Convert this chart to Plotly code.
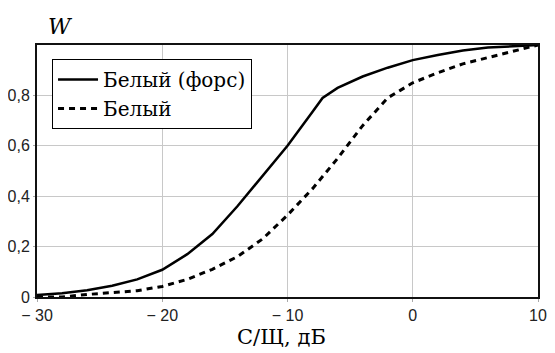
import plotly.graph_objects as go

x_forced = [-30, -28, -26, -24, -22, -20, -18, -16, -14, -12, -10, -8, -7.2, -6, -4, -2, 0, 2, 4, 6, 8, 10]
w_forced = [0.008, 0.015, 0.027, 0.045, 0.07, 0.108, 0.17, 0.25, 0.36, 0.48, 0.60, 0.735, 0.79, 0.83, 0.875, 0.91, 0.94, 0.96, 0.978, 0.99, 0.996, 1.0]

x_white = [-30, -28, -26, -24, -22, -20, -18, -16, -14, -12, -10, -8, -6, -4, -2, -1, 0, 2, 4, 6, 8, 10]
w_white = [0.0, 0.0, 0.01, 0.017, 0.025, 0.042, 0.07, 0.11, 0.16, 0.23, 0.325, 0.43, 0.55, 0.68, 0.79, 0.82, 0.85, 0.89, 0.925, 0.95, 0.975, 1.0]

x_tickvals = [-30, -20, -10, 0, 10]
x_ticktext = ["\u2212 30", "\u2212 20", "\u2212 10", "0", "10"]
y_tickvals = [0, 0.2, 0.4, 0.6, 0.8]
y_ticktext = ["0", "0,2", "0,4", "0,6", "0,8"]

names = ["Белый (форс)", "Белый"]
x_title = "С/Щ, дБ"
y_title = "<i>W</i>"

serif = "DejaVu Serif"

fig = go.Figure()
fig.add_trace(go.Scatter(x=x_forced, y=w_forced, mode="lines", name=names[0],
                         line=dict(color="black", width=2.5), legendgroup="a"))
fig.add_trace(go.Scatter(x=x_white, y=w_white, mode="lines", name=names[1],
                         line=dict(color="black", width=3, dash="6px,5px"), legendgroup="b"))

axis_font = dict(family="Liberation Sans", size=16, color="#222")
# page body has an 8px margin, so the figure is made 8px smaller on each side
fig.update_layout(
    width=547, height=345,
    margin=dict(l=29, r=17, t=37, b=56),
    paper_bgcolor="white", plot_bgcolor="white",
    font=dict(family=serif),
    showlegend=True,
    legend=dict(x=0.03, y=0.944, xanchor="left", yanchor="top",
                bgcolor="white", bordercolor="black", borderwidth=1,
                font=dict(family=serif, size=20, color="black"),
                tracegroupgap=0, itemwidth=40),
    xaxis=dict(range=[-30, 10], tickvals=x_tickvals, ticktext=x_ticktext,
               showgrid=True, gridcolor="#c8c8c8", gridwidth=1,
               showline=True, linecolor="#111", linewidth=2, mirror=True,
               ticks="outside", ticklen=3, tickcolor="#aaa",
               tickfont=axis_font, zeroline=False, automargin=False),
    yaxis=dict(range=[0, 1], tickvals=y_tickvals, ticktext=y_ticktext,
               showgrid=True, gridcolor="#c8c8c8", gridwidth=1,
               showline=True, linecolor="#111", linewidth=2, mirror=True,
               ticks="outside", ticklen=2, tickcolor="#aaa",
               tickfont=axis_font, zeroline=False, automargin=False),
    annotations=[
        dict(text=y_title, xref="paper", yref="paper", x=0.046, y=1.0,
             yshift=19, xanchor="center", yanchor="middle", showarrow=False,
             font=dict(family=serif, size=22, color="black")),
        dict(text=x_title, xref="paper", yref="paper", x=0.488, y=0.0,
             yshift=-40, xanchor="center", yanchor="middle", showarrow=False,
             font=dict(family=serif, size=21, color="black")),
    ],
)

fig.write_html("out.html")
